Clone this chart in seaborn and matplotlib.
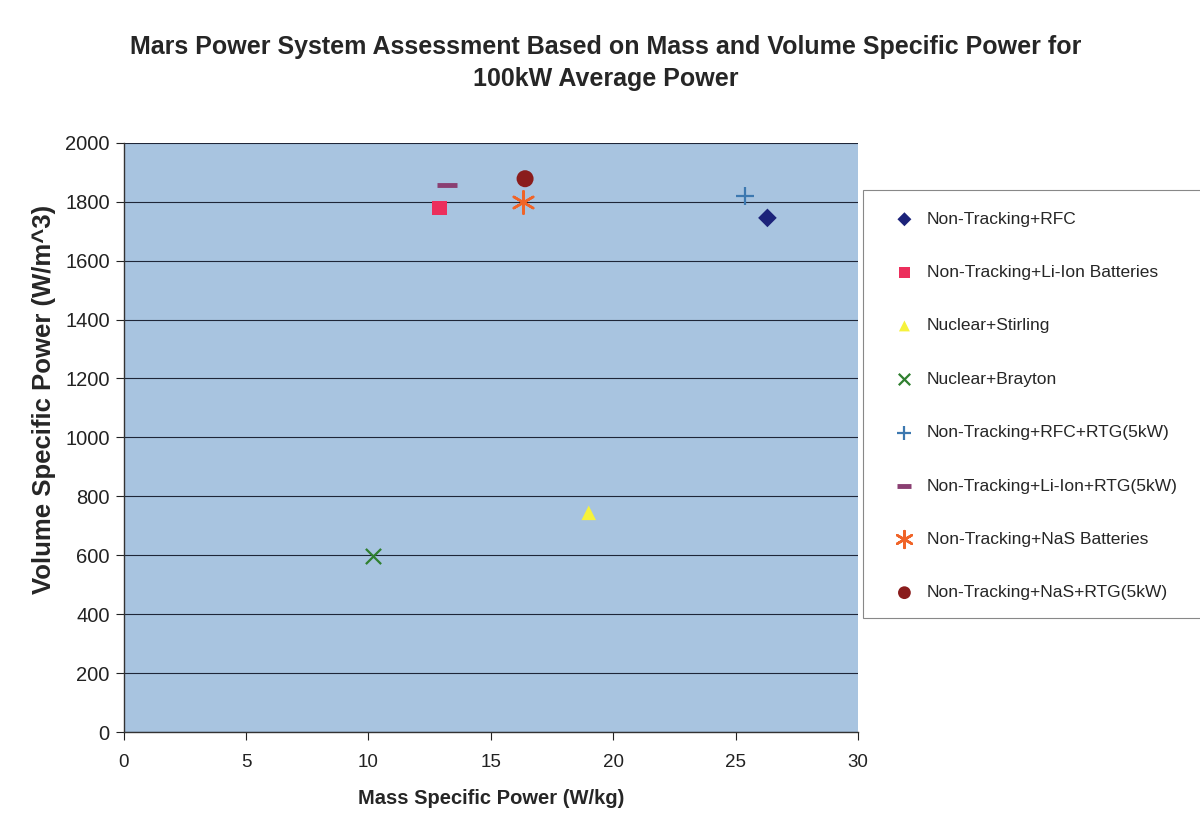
import matplotlib
matplotlib.use("Agg")
import matplotlib.pyplot as plt
from matplotlib.patches import Rectangle
import seaborn as sns
import pandas as pd

systems = ["Non-Tracking+RFC", "Non-Tracking+Li-Ion Batteries", "Nuclear+Stirling",
           "Nuclear+Brayton", "Non-Tracking+RFC+RTG(5kW)", "Non-Tracking+Li-Ion+RTG(5kW)",
           "Non-Tracking+NaS Batteries", "Non-Tracking+NaS+RTG(5kW)"]
mass_specific = [26.3, 12.9, 19.0, 10.2, 25.4, 13.2, 16.3, 16.4]
volume_specific = [1745, 1779, 744, 598, 1820, 1855, 1800, 1878]
colors = ["#1c237a", "#ec2e5c", "#f6f23c", "#2f7f2f", "#3c78b0", "#8a3f72", "#f06428", "#8a1c1c"]
markers = ["D", "s", "^", "x", "+", "_", (6, 2, 0), "o"]
sizes = [90, 110, 110, 120, 170, 200, 260, 150]
line_widths = [0, 0, 0, 1.6, 1.6, 3.5, 1.8, 0]

df = pd.DataFrame({"system": systems, "mass": mass_specific, "volume": volume_specific})

sns.set_style("white")
plt.rcParams["font.family"] = ["Liberation Sans", "DejaVu Sans"]

fig = plt.figure(figsize=(12, 8.3), dpi=100)
ax = fig.add_axes([0.103, 0.118, 0.612, 0.710])
ax.set_facecolor("#a8c4e0")

for i, s in enumerate(systems):
    sub = df[df["system"] == s]
    m = markers[i]
    filled = m in ("D", "s", "^", "o")
    kw = dict(edgecolor="none") if filled else dict(linewidth=line_widths[i])
    sns.scatterplot(data=sub, x="mass", y="volume", ax=ax, marker=m, s=sizes[i],
                    color=colors[i], label=s, zorder=3, **kw)

ax.set_xlim(0, 30)
ax.set_ylim(0, 2000)
ax.set_xticks(range(0, 31, 5))
ax.set_yticks(range(0, 2001, 200))
ax.yaxis.grid(True, color="#1e2638", linewidth=0.8)
ax.xaxis.grid(False)
ax.set_axisbelow(True)
ax.tick_params(axis="both", direction="out", length=6, width=0.8, colors="#222222",
               left=True, bottom=True)
ax.tick_params(axis="x", labelsize=13.5, pad=10)
ax.tick_params(axis="y", labelsize=14.5, pad=4)
for side in ["top", "right"]:
    ax.spines[side].set_visible(False)
for side in ["left", "bottom"]:
    ax.spines[side].set_color("#333333")
    ax.spines[side].set_linewidth(1.0)

ax.set_xlabel("Mass Specific Power (W/kg)", fontsize=14.5, fontweight="bold")
ax.xaxis.set_label_coords(0.5, -0.112)
ax.xaxis.label.set_va("center")
ax.set_ylabel("Volume Specific Power (W/m^3)", fontsize=18.5, fontweight="bold")
ax.yaxis.set_label_coords(-0.108, 0.564)
ax.yaxis.label.set_va("center")

fig.text(0.505, 0.924, "Mars Power System Assessment Based on Mass and Volume Specific Power for\n100kW Average Power",
         ha="center", va="center", fontsize=18, fontweight="bold", linespacing=1.38)

# legend frame
fig.add_artist(Rectangle((0.719, 0.2554), 0.3, 0.5156, transform=fig.transFigure,
                         facecolor="white", edgecolor="#888888", linewidth=0.8, zorder=1))

handles, labels = ax.get_legend_handles_labels()
ax.get_legend().remove()
leg = fig.legend(handles, labels, loc="upper left", bbox_to_anchor=(0.745, 0.745),
                 frameon=False, fontsize=12.5, labelspacing=2.2, handlelength=1.2,
                 handletextpad=0.7, borderpad=0, borderaxespad=0, markerscale=0.75)
leg.set_zorder(2)

fig.savefig("out.png", dpi=100, facecolor="white")
